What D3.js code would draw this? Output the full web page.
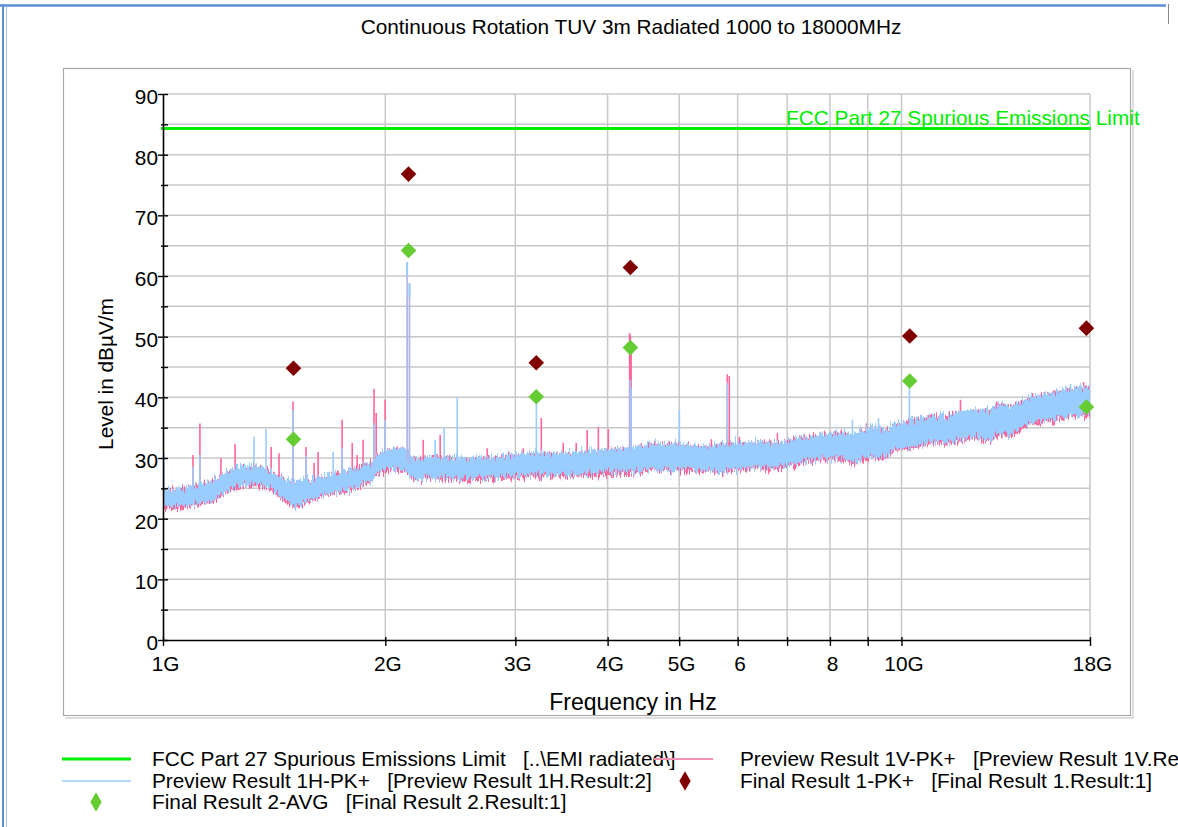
<!DOCTYPE html>
<html>
<head>
<meta charset="utf-8">
<script src="https://cdn.jsdelivr.net/npm/d3@7"></script>
<style>
  html, body { margin: 0; padding: 0; background: #fff; }
  svg { display: block; font-family: "Liberation Sans", Arial, Helvetica, sans-serif; }
  text { white-space: pre; }
</style>
</head>
<body>
<svg id="chart" width="1178" height="827"></svg>
<script>
// ---- Measurement data (frequency in MHz, level in dBµV/m) ----
const chartTitle = "Continuous Rotation TUV 3m Radiated 1000 to 18000MHz";
const limitLevel = 84.3;
const limitLabel = "FCC Part 27 Spurious Emissions Limit";

// Noise floor envelope of the two preview sweeps
const bandFreq = [1000,1054,1105,1158,1213,1272,1332,1396,1463,1510,1582,1684,1792,1908,1968,2063,2128,2175,2300,2526,2774,3094,3451,3909,4294,4570,5018,5341,5684,6243,6855,7297,7767,8267,8664,9080,9513,9815,10280,10950,11650,12400,13200,13620,14050,14950,15920,16940,18000];
const hLo = [22.0,22.0,22.5,22.8,24.4,25.5,25.6,25.2,23.1,22.0,23.1,24.4,24.7,26.4,28.0,28.3,28.0,26.7,26.9,26.7,26.8,27.2,27.2,27.5,27.8,28.2,28.3,28.0,28.0,28.5,28.5,29.3,30.0,30.0,29.3,30.5,30.2,31.6,31.8,32.6,32.6,33.5,33.0,34.3,33.8,35.8,36.3,37.1,37.4];
const hHi = [24.7,24.8,25.5,26.0,27.5,28.5,28.6,28.0,26.4,25.9,26.4,27.2,28.0,29.2,30.8,31.6,31.6,30.0,30.2,30.0,30.0,30.8,30.8,31.3,31.6,32.3,32.3,31.8,32.1,32.6,32.6,33.3,33.8,34.3,34.0,35.0,34.6,35.4,36.3,36.8,37.1,37.9,37.9,39.0,38.4,40.0,40.7,41.5,41.7];
const vLo = [21.7,21.7,22.2,22.5,24.1,25.2,25.3,24.9,22.8,21.7,22.8,24.1,24.4,26.1,27.7,28.0,27.7,26.4,26.6,26.4,26.5,26.9,26.9,27.2,27.5,27.9,28.0,27.7,27.7,28.2,28.2,29.0,29.7,29.7,29.0,30.2,29.9,31.3,31.5,32.3,32.3,33.2,32.7,34.0,33.5,35.5,36.0,36.8,37.1];
const vHi = [24.6,24.7,25.4,25.9,27.4,28.4,28.5,27.9,26.3,25.8,26.3,27.1,27.9,29.1,30.7,31.5,31.5,29.9,30.1,29.9,29.9,30.7,30.7,31.2,31.5,32.2,32.2,31.7,32.0,32.5,32.5,33.2,33.7,34.2,33.9,34.9,34.5,35.3,36.2,36.7,37.0,37.8,37.8,38.9,38.3,39.9,40.6,41.4,41.6];

// Discrete emissions rising out of the noise floor [freq, level]
const vSpikes = [[1098,30.5],[1122,35.7],[1198,30.0],[1252,32.3],[1401,31.8],[1436,30.8],[1500,39.3],[1562,31.8],[1602,29.2],[1622,31.0],[1748,36.3],[1804,32.5],[1832,30.5],[1866,33.0],[1931,41.4],[1944,37.4],[1999,39.6],[2143,57.0],[2251,33.0],[2373,33.8],[2748,31.6],[3075,31.6],[3253,36.6],[3483,32.5],[3627,32.5],[3753,34.6],[3886,35.1],[4009,34.8],[4284,50.6],[4294,50.2],[4304,47.5],[4542,32.6],[5528,33.1],[5810,43.8],[5846,43.5],[6033,33.5],[6792,34.1],[8013,34.4],[8966,35.7],[9425,35.0],[12020,39.6],[13450,39.3],[15050,40.7],[17640,42.5]];
const hSpikes = [[1003,30.8],[1098,28.5],[1122,30.5],[1328,33.5],[1379,34.8],[1500,37.9],[1562,30.3],[1700,31.0],[1748,31.6],[1931,35.7],[1999,36.3],[2141,62.3],[2157,58.8],[2336,33.0],[2403,35.0],[2503,40.0],[3203,40.2],[4290,42.9],[4303,41.5],[5003,37.9],[5810,42.4],[8582,36.3],[9307,36.6],[10250,42.9],[16940,42.2]];

// Final measurements
const finalFreq = [1502,2150,3202,4294,10260,17800];
const finalPk   = [44.8,76.8,45.7,61.4,50.1,51.4];
const finalAvg  = [33.1,64.2,40.1,48.2,42.7,38.4];

// Axis ticks
const yTicks = [0,5,10,15,20,25,30,35,40,45,50,55,60,65,70,75,80,85,90];
const xTicks = [1000,2000,3000,4000,5000,6000,7000,8000,9000,10000,18000];
const xTickLabels = ["1G","2G","3G","4G","5G","6","","8","","10G","18G"];

// Legend entries
const legendLeft = [
  "FCC Part 27 Spurious Emissions Limit   [..\\EMI radiated\\]",
  "Preview Result 1H-PK+   [Preview Result 1H.Result:2]",
  "Final Result 2-AVG   [Final Result 2.Result:1]"
];
const legendRight = [
  "Preview Result 1V-PK+   [Preview Result 1V.Result:1]",
  "Final Result 1-PK+   [Final Result 1.Result:1]"
];

// ---- Colours ----
const C = {
  limit: "#00ee00",
  pink: "#ff6699",
  blue: "#99ccff",
  lav: "#b4b6e8",
  pk: "#800000",
  avg: "#66cc33",
  grid: "#c8c8c8",
  frame: "#a9a9a9",
  border: "#5b8fd6"
};
const FS = "20.8px";

const svg = d3.select("#chart");
const W = 1178, H = 827;

svg.append("rect").attr("width", W).attr("height", H).attr("fill", "#fff");

// Outer window border
svg.append("line").attr("x1", 0).attr("x2", 1166).attr("y1", 5.5).attr("y2", 5.5)
  .attr("stroke", C.border).attr("stroke-width", 2.5);
svg.append("line").attr("x1", 3).attr("x2", 3).attr("y1", 4).attr("y2", H)
  .attr("stroke", C.border).attr("stroke-width", 2);
svg.append("line").attr("x1", 6.5).attr("x2", 6.5).attr("y1", 7).attr("y2", H)
  .attr("stroke", "#a9c4ea").attr("stroke-width", 1);
svg.append("line").attr("x1", 1168.5).attr("x2", 1168.5).attr("y1", 4).attr("y2", 24)
  .attr("stroke", "#888").attr("stroke-width", 1);

// Title
svg.append("text").attr("x", 631).attr("y", 34).attr("text-anchor", "middle")
  .attr("font-size", FS).attr("fill", "#000").text(chartTitle);

// Plot panel frame with a soft shadow
svg.append("path").attr("d", "M1133,70 V718 H65").attr("fill", "none")
  .attr("stroke", "#dedede").attr("stroke-width", 2);
svg.append("rect").attr("x", 63.5).attr("y", 68.5).attr("width", 1067).attr("height", 647)
  .attr("fill", "#fff").attr("stroke", C.frame).attr("stroke-width", 1.2);

// Scales
const x = d3.scaleLog().domain([1000, 18000]).range([163, 1090]);
const y = d3.scaleLinear().domain([0, 90]).range([640, 94]);

// Grid
const grid = svg.append("g");
grid.selectAll("line.h").data(yTicks.filter(d => d > 0)).join("line")
  .attr("x1", x(1000)).attr("x2", x(18000))
  .attr("y1", d => y(d)).attr("y2", d => y(d))
  .attr("stroke", C.grid).attr("stroke-width", 1.5);
grid.selectAll("line.v").data(xTicks.filter(d => d > 1000)).join("line")
  .attr("x1", d => x(d)).attr("x2", d => x(d))
  .attr("y1", y(90)).attr("y2", y(0))
  .attr("stroke", C.grid).attr("stroke-width", 1.5);

// Clip region for traces
const defs = svg.append("defs");
defs.append("clipPath").attr("id", "plotClip").append("rect")
  .attr("x", 163).attr("y", 94).attr("width", 927).attr("height", 546);

// Fine vertical roughness for the swept noise floor
function roughFilter(id, seed, amount) {
  const f = defs.append("filter").attr("id", id)
    .attr("x", "-0.01").attr("y", "-0.3").attr("width", "1.02").attr("height", "1.6")
    .attr("color-interpolation-filters", "sRGB");
  f.append("feTurbulence").attr("type", "fractalNoise")
    .attr("baseFrequency", "0.85 0.02").attr("numOctaves", 2).attr("seed", seed).attr("result", "n");
  f.append("feColorMatrix").attr("in", "n").attr("type", "matrix")
    .attr("values", "0 0 0 0 0.5  0 1 0 0 0  0 0 0 0 0  0 0 0 0 1").attr("result", "m");
  f.append("feDisplacementMap").attr("in", "SourceGraphic").attr("in2", "m")
    .attr("scale", amount).attr("xChannelSelector", "R").attr("yChannelSelector", "G");
}
roughFilter("roughV", 3, 16);
roughFilter("roughH", 11, 18);

const traces = svg.append("g").attr("clip-path", "url(#plotClip)");

const bandV = bandFreq.map((f, i) => ({ f, lo: vLo[i], hi: vHi[i] }));
const bandH = bandFreq.map((f, i) => ({ f, lo: hLo[i], hi: hHi[i] }));
const area = d3.area().x(d => x(d.f)).y0(d => y(d.lo)).y1(d => y(d.hi));

// Middle of the noise floor at a given frequency (for spike bases)
const bis = d3.bisector(d => d.f).left;
function floorMid(f) {
  let i = Math.max(1, Math.min(bandH.length - 1, bis(bandH, f)));
  const a = bandH[i - 1], b = bandH[i];
  const t = (Math.log(f) - Math.log(a.f)) / (Math.log(b.f) - Math.log(a.f));
  return ((a.lo + a.hi) / 2) * (1 - t) + ((b.lo + b.hi) / 2) * t;
}

// Vertical sweep (pink) underneath
traces.append("path").datum(bandV).attr("d", area)
  .attr("fill", C.pink).attr("stroke", C.pink).attr("stroke-width", 1).attr("filter", "url(#roughV)");
traces.selectAll("line.vs").data(vSpikes).join("line")
  .attr("x1", d => x(d[0])).attr("x2", d => x(d[0]))
  .attr("y1", d => y(floorMid(d[0]))).attr("y2", d => y(d[1]))
  .attr("stroke", d => d[1] > 52 ? C.lav : C.pink)
  .attr("stroke-width", 1.6);

// Horizontal sweep (blue) on top
traces.append("path").datum(bandH).attr("d", area)
  .attr("fill", C.blue).attr("stroke", C.blue).attr("stroke-width", 1).attr("filter", "url(#roughH)");
traces.selectAll("line.hs").data(hSpikes).join("line")
  .attr("x1", d => x(d[0])).attr("x2", d => x(d[0]))
  .attr("y1", d => y(floorMid(d[0]))).attr("y2", d => y(d[1]))
  .attr("stroke", d => d[1] > 52 ? C.lav : C.blue)
  .attr("stroke-width", 1.6);
// Top of the strongest blue emission stays light blue
traces.selectAll("line.hst").data(hSpikes.filter(d => d[1] > 52)).join("line")
  .attr("x1", d => x(d[0])).attr("x2", d => x(d[0]))
  .attr("y1", d => y(d[1]) + 14).attr("y2", d => y(d[1]))
  .attr("stroke", C.blue).attr("stroke-width", 2);

// Limit line
svg.append("line").attr("x1", x(1000) - 2).attr("x2", x(18000) + 1)
  .attr("y1", y(limitLevel)).attr("y2", y(limitLevel))
  .attr("stroke", C.limit).attr("stroke-width", 3);
svg.append("text").attr("x", 786).attr("y", 125).attr("font-size", FS)
  .attr("fill", C.limit).text(limitLabel);

// Axes
const yAxis = d3.axisLeft(y).tickValues(yTicks)
  .tickFormat(d => d % 10 === 0 ? String(d) : "").tickSizeOuter(0);
const gy = svg.append("g").attr("transform", `translate(${x(1000)},0)`).call(yAxis);
gy.select(".domain").attr("stroke", "#000").attr("stroke-width", 1.6);
gy.selectAll(".tick line").attr("stroke", "#000").attr("stroke-width", 1.4)
  .attr("x1", d => d % 10 === 0 ? -5 : -2).attr("x2", 5);
gy.selectAll(".tick text").attr("x", -5).attr("dy", "0.45em")
  .attr("font-size", FS).attr("fill", "#000").attr("font-family", null);

const xAxis = d3.axisBottom(x).tickValues(xTicks)
  .tickFormat((d, i) => xTickLabels[i]).tickSizeOuter(0);
const gx = svg.append("g").attr("transform", `translate(0,${y(0)})`).call(xAxis);
gx.select(".domain").attr("stroke", "#000").attr("stroke-width", 1.6);
gx.selectAll(".tick line").attr("stroke", "#000").attr("stroke-width", 1.4)
  .attr("y1", -3).attr("y2", 6);
gx.selectAll(".tick text").attr("y", 16.5).attr("dx", 2)
  .attr("font-size", FS).attr("fill", "#000").attr("font-family", null);

// Axis titles
svg.append("text").attr("x", 633).attr("y", 710).attr("text-anchor", "middle")
  .attr("font-size", "23px").attr("fill", "#000").text("Frequency in Hz");
svg.append("text").attr("transform", "translate(113,374) rotate(-90)")
  .attr("text-anchor", "middle").attr("font-size", FS).attr("fill", "#000")
  .text("Level in dBµV/m");

// Final measurement markers
const squareSym = d3.symbol().type(d3.symbolSquare).size(122);
const finals = svg.append("g");
finals.selectAll("path.pk").data(finalFreq).join("path")
  .attr("d", squareSym)
  .attr("transform", (d, i) => `translate(${x(d)},${y(finalPk[i])}) rotate(45)`)
  .attr("fill", C.pk);
finals.selectAll("path.avg").data(finalFreq).join("path")
  .attr("d", squareSym)
  .attr("transform", (d, i) => `translate(${x(d)},${y(finalAvg[i])}) rotate(45)`)
  .attr("fill", C.avg);

// Legend
const lg = svg.append("g").attr("font-size", FS).attr("fill", "#000");
const rowY = [759, 781, 802];
lg.append("line").attr("x1", 62).attr("x2", 131).attr("y1", rowY[0]).attr("y2", rowY[0])
  .attr("stroke", C.limit).attr("stroke-width", 3);
lg.append("line").attr("x1", 62).attr("x2", 131).attr("y1", rowY[1]).attr("y2", rowY[1])
  .attr("stroke", C.blue).attr("stroke-width", 1.5);
const legSym = d3.symbol().type(d3.symbolDiamond).size(110);
lg.append("path").attr("d", legSym).attr("transform", `translate(96,${rowY[2]})`).attr("fill", C.avg);
legendLeft.forEach((t, i) => {
  lg.append("text").attr("x", 152).attr("y", rowY[i] + 7).text(t);
});
lg.append("line").attr("x1", 654).attr("x2", 713).attr("y1", rowY[0]).attr("y2", rowY[0])
  .attr("stroke", "#f48fb1").attr("stroke-width", 2);
lg.append("path").attr("d", legSym).attr("transform", `translate(685,${rowY[1]})`).attr("fill", C.pk);
legendRight.forEach((t, i) => {
  lg.append("text").attr("x", 740).attr("y", rowY[i] + 7).text(t);
});
</script>
</body>
</html>
